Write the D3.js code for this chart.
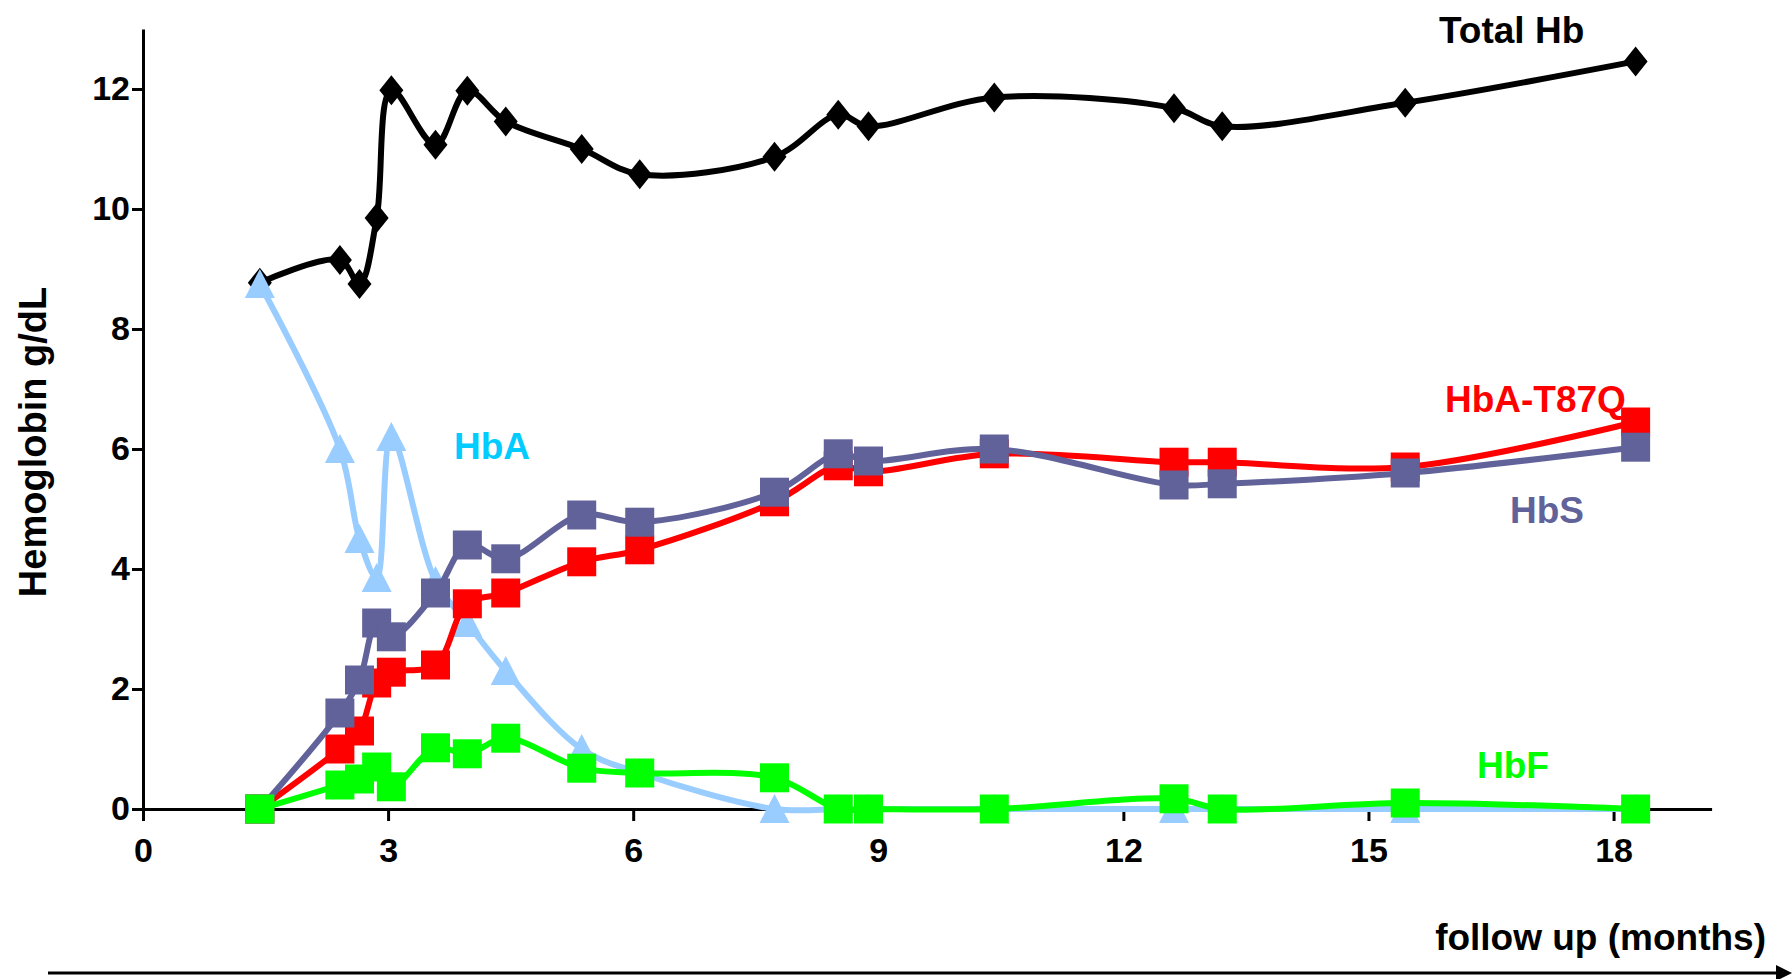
<!DOCTYPE html>
<html>
<head>
<meta charset="utf-8">
<script src="https://cdn.jsdelivr.net/npm/d3@7"></script>
<style>
  body { margin: 0; background: #fff; }
  svg { display: block; font-family: 'Liberation Sans', Arial, sans-serif; font-weight: bold; }
</style>
</head>
<body>
<div class="chart"></div>
<script>
// follow up months, shared by all series
const months = [1.43, 2.41, 2.65, 2.86, 3.04, 3.58, 3.97, 4.44, 5.37, 6.08, 7.73, 8.51, 8.88, 10.42, 12.62, 13.21, 15.45, 18.27];

const totalHb = [8.77, 9.15, 8.75, 9.85, 11.98, 11.07, 11.97, 11.46, 11.0, 10.58, 10.87, 11.57, 11.38, 11.86, 11.68, 11.38, 11.77, 12.46];
const hbA = [8.75, 6.0, 4.5, 3.85, 6.2, 3.8, 3.1, 2.3, 1.0, 0.6, 0, 0, 0, 0, 0, 0, 0, 0];
const hbT87Q = [0, 1.0, 1.3, 2.1, 2.28, 2.4, 3.42, 3.6, 4.12, 4.32, 5.12, 5.72, 5.62, 5.92, 5.78, 5.78, 5.7, 6.45];
const hbS = [0, 1.6, 2.15, 3.1, 2.87, 3.6, 4.4, 4.17, 4.9, 4.78, 5.28, 5.92, 5.8, 6.0, 5.4, 5.42, 5.6, 6.03];
const hbF = [0, 0.4, 0.5, 0.7, 0.37, 1.02, 0.92, 1.18, 0.68, 0.6, 0.52, 0, 0, 0, 0.17, 0, 0.1, 0];

const yTicks = [0, 2, 4, 6, 8, 10, 12];
const xTicks = [0, 3, 6, 9, 12, 15, 18];

const width = 1792;
const height = 979;

const x = d3.scaleLinear().domain([0, 19.2]).range([143, 1711.6]);
const y = d3.scaleLinear().domain([0, 13]).range([809, 29]);

const svg = d3.select('.chart')
    .append('svg')
    .attr('width', width)
    .attr('height', height);

// axes
const yAxis = svg.append('g')
    .attr('transform', `translate(${x(0)},0)`)
    .call(d3.axisLeft(y).tickValues(yTicks).tickSize(11).tickSizeOuter(0).tickPadding(2));

const xAxis = svg.append('g')
    .attr('transform', `translate(0,${y(0)})`)
    .call(d3.axisBottom(x).tickValues(xTicks).tickSize(12).tickSizeOuter(0).tickPadding(17));

[yAxis, xAxis].forEach(g => {
    g.select('.domain').attr('stroke', '#000').attr('stroke-width', 3);
    g.selectAll('.tick line').attr('stroke', '#000').attr('stroke-width', 3);
    g.selectAll('.tick text')
        .attr('fill', '#000')
        .style('font-size', '34px')
        .style('font-family', "'Liberation Sans', Arial, sans-serif")
        .style('font-weight', 'bold');
});

svg.append('text')
    .attr('transform', 'translate(46,442) rotate(-90)')
    .attr('text-anchor', 'middle')
    .style('font-size', '38px')
    .text('Hemoglobin g/dL');

// series
const series = [
    { name: 'Total Hb', values: totalHb, color: '#000', symbol: 'diamond' },
    { name: 'HbA', values: hbA, color: '#99ccff', symbol: 'triangle' },
    { name: 'HbA-T87Q', values: hbT87Q, color: '#ff0000', symbol: 'square' },
    { name: 'HbS', values: hbS, color: '#62629a', symbol: 'square' },
    { name: 'HbF', values: hbF, color: '#00ff00', symbol: 'square' }
];

const line = d3.line()
    .x(d => x(d[0]))
    .y(d => y(d[1]))
    .curve(d3.curveCatmullRom.alpha(0.5));

const symbolPath = {
    diamond: 'M0,-15L12,0L0,15L-12,0Z',
    square: 'M-14.5,-14.5H14.5V14.5H-14.5Z',
    triangle: 'M0,-15L15,14L-15,14Z'
};

series.forEach(s => {
    const pts = months.map((m, i) => [m, s.values[i]]);
    const g = svg.append('g').attr('class', 'series');

    g.append('path')
        .datum(pts)
        .attr('d', line)
        .attr('fill', 'none')
        .attr('stroke', s.color)
        .attr('stroke-width', 6)
        .attr('stroke-linejoin', 'round');

    g.selectAll('path.mark')
        .data(pts)
        .enter()
        .append('path')
        .attr('class', 'mark')
        .attr('d', symbolPath[s.symbol])
        .attr('transform', d => `translate(${x(d[0])},${y(d[1])})`)
        .attr('fill', s.color);
});

// series labels
const labels = [
    { text: 'Total Hb', x: 1439, y: 43, color: '#000' },
    { text: 'HbA-T87Q', x: 1445, y: 412, color: '#ff0000' },
    { text: 'HbS', x: 1510, y: 523, color: '#62629a' },
    { text: 'HbF', x: 1477, y: 778, color: '#00ff00' },
    { text: 'HbA', x: 454, y: 459, color: '#00ccff' }
];

svg.selectAll('text.label')
    .data(labels)
    .enter()
    .append('text')
    .attr('class', 'label')
    .attr('x', d => d.x)
    .attr('y', d => d.y)
    .attr('fill', d => d.color)
    .style('font-size', '37px')
    .text(d => d.text);

// follow up arrow
svg.append('text')
    .attr('x', 1766)
    .attr('y', 950)
    .attr('text-anchor', 'end')
    .style('font-size', '37px')
    .text('follow up (months)');

svg.append('line')
    .attr('x1', 48)
    .attr('x2', 1780)
    .attr('y1', 973)
    .attr('y2', 973)
    .attr('stroke', '#000')
    .attr('stroke-width', 3);

svg.append('path')
    .attr('d', 'M1792,973 L1776,965 L1776,981 Z')
    .attr('fill', '#000');
</script>
</body>
</html>
